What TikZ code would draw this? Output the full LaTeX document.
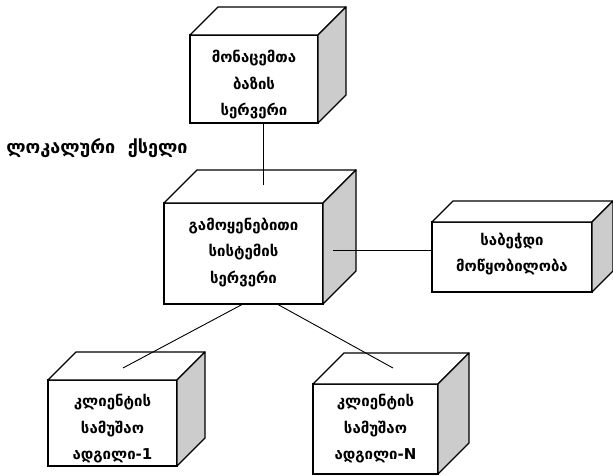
\documentclass[tikz,border=0pt]{standalone}
\usepackage{fontspec}
\newfontfamily\geo{DejaVu Sans}
\tikzset{
  front/.style={draw, line width=1.3pt, fill=white, inner sep=0pt, outer sep=0pt},
  txt/.style={inner sep=0pt, align=center, font=\geo\bfseries\fontsize{15}{26.5}\selectfont},
  topface/.style={draw, line width=1.3pt, fill=white, line join=round},
  sideface/.style={draw, line width=1.3pt, fill=black!20, line join=round},
  conn/.style={draw, line width=0.9pt},
  lbl/.style={inner sep=0pt, font=\geo\bfseries\fontsize{18}{26}\selectfont}
}
% name, cx, cy, w, h, depth, text, text y-offset
\newcommand\mycube[8]{%
  \node[front, minimum width=#4pt, minimum height=#5pt] (#1) at (#2,#3) {};
  \path[topface] (#1.north west) -- ([shift={(#6pt,#6pt)}]#1.north west)
     -- ([shift={(#6pt,#6pt)}]#1.north east) -- (#1.north east) -- cycle;
  \path[sideface] (#1.north east) -- ([shift={(#6pt,#6pt)}]#1.north east)
     -- ([shift={(#6pt,#6pt)}]#1.south east) -- (#1.south east) -- cycle;
  \node[txt] (#1t) at ([yshift=-#8pt]#1.center) {#7};
}
\begin{document}
\begin{tikzpicture}[x=1pt,y=-1pt]
\useasboundingbox (0,0) rectangle (613,476);
\mycube{db}{254}{79}{128}{88}{28}{მონაცემთა\\ბაზის\\სერვერი}{6}
\mycube{app}{243.5}{253.5}{159}{101}{33}{გამოყენებითი\\სისტემის\\სერვერი}{-1}
\mycube{prn}{512}{257}{160}{70}{21}{საბეჭდი\\მოწყობილობა}{-3}
\mycube{cl1}{112.5}{423}{129}{86}{28}{კლიენტის\\სამუშაო\\ადგილი-1}{6}
\mycube{clN}{375.5}{429}{125}{90}{31}{კლიენტის\\სამუშაო\\ადგილი-N}{0}
\node[lbl] (net) at (97,148) {ლოკალური\ \ ქსელი};
\coordinate (apptop) at (263,185);
\coordinate (appright) at (333,250);
\coordinate (cl1top) at (123,368);
\coordinate (clNtop) at (393,368);
\draw[conn] ([xshift=9pt]db.south) -- (apptop);
\draw[conn] (appright) -- (appright -| prn.west);
\draw[conn] ([xshift=-0.5pt]app.south) -- (cl1top);
\draw[conn] ([xshift=33.5pt]app.south) -- (clNtop);
\end{tikzpicture}
\end{document}
